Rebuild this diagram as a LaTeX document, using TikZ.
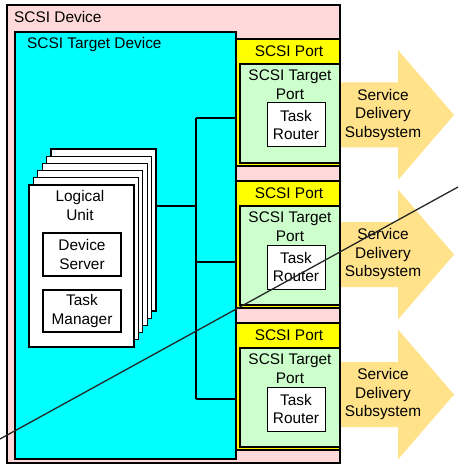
\documentclass[tikz,border=0pt]{standalone}
\usepackage{fontspec}
\setmainfont{Liberation Sans}
\definecolor{devpink}{RGB}{255,217,217}
\definecolor{tdcyan}{RGB}{0,255,255}
\definecolor{portyellow}{RGB}{255,255,0}
\definecolor{tpgreen}{RGB}{204,255,204}
\definecolor{sdsarrow}{RGB}{255,226,138}
\begin{document}
\begin{tikzpicture}[x=1pt,y=-1pt,
  every node/.style={font=\fontsize{15.4}{18.5}\selectfont, inner sep=0pt, align=center},
  bigbox/.style={draw, line width=2pt, inner sep=0pt},
  smallbox/.style={draw, line width=1.2pt, fill=white, inner sep=0pt},
  page/.style={draw, line width=1.2pt, fill=white, inner sep=0pt, minimum width=105pt, minimum height=162pt},
  wire/.style={line width=2pt},
  sds/.style={fill=sdsarrow}]
\useasboundingbox (0,0) rectangle (458,465);

% service delivery subsystem arrows
\foreach \k/\c in {1/115,2/254.5,3/394.5}{
  \fill[sds] (340,{\c-32.5}) -- (398,{\c-32.5}) -- (398,{\c-65}) -- (454,\c)
     -- (398,{\c+65}) -- (398,{\c+32.5}) -- (340,{\c+32.5}) -- cycle;
  \node (sds\k) at (383,\c) {Service\\Delivery\\Subsystem};
}

% SCSI device
\node[bigbox, fill=devpink, minimum width=333pt, minimum height=458pt] (dev) at (173.5,234) {};
\node[anchor=base west] (devlbl) at (14,23) {SCSI Device};

% SCSI target device
\node[bigbox, fill=tdcyan, minimum width=221pt, minimum height=427pt] (td) at (125.5,245.5) {};
\node[anchor=base west] (tdlbl) at (27,48.5) {SCSI Target Device};

% ports
\foreach \k/\Y in {1/39,2/181,3/323}{
  \node[bigbox, fill=portyellow, minimum width=104pt, minimum height=127pt] (port\k) at (288,{\Y+63.5}) {};
  \node (portlbl\k) at (289,{\Y+12.5}) {SCSI Port};
  \node[bigbox, fill=tpgreen, minimum width=100.5pt, minimum height=99pt] (tport\k) at (289.75,{\Y+74.5}) {};
  \node (tportlbl\k) at (290,{\Y+45.5}) {SCSI Target\\Port};
  \node[draw, line width=1pt, fill=white, minimum width=58pt, minimum height=44pt] (router\k) at (296,{\Y+86}) {Task\\Router};
}

% logical unit stack
\foreach \i in {5,4,3,2,1}{
  \node[page] (lu\i) at ({81.5+4.4*\i},{266-7.2*\i}) {};
}
\node[page] (lu) at (81.5,266) {};
\node (lulbl) at (80,205.5) {Logical\\Unit};
\node[smallbox, minimum width=78pt, minimum height=43pt] (ds) at (82,254.5) {Device\\Server};
\node[smallbox, minimum width=78pt, minimum height=42pt] (tm) at (82,311) {Task\\Manager};

% interconnect
\coordinate (j) at (196,206);
\coordinate (b1) at (196,118);
\coordinate (b2) at (196,262);
\coordinate (b3) at (196,399);
\draw[wire] (lu5.east |- j) -- (j);
\draw[wire] (b1) -- (b3);
\draw[wire] (b1) -- (td.east |- b1);
\draw[wire] (b2) -- (td.east |- b2);
\draw[wire] (b3) -- (td.east |- b3);

% diagonal stroke
\coordinate (d1) at (0,439);
\coordinate (d2) at (458,187);
\draw[line width=1.3pt, black!85] (d1) -- (d2);
\end{tikzpicture}
\end{document}
